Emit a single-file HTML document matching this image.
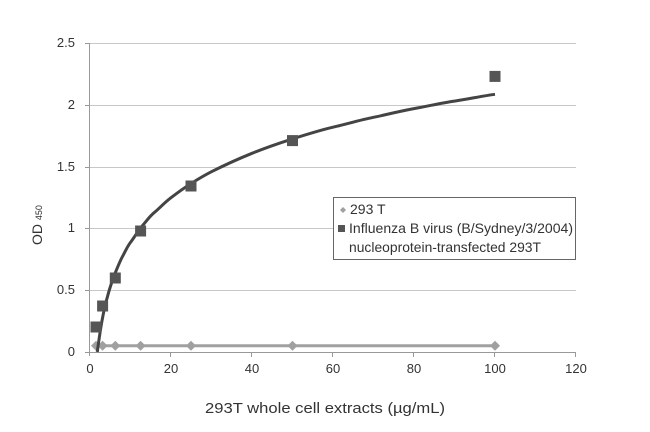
<!DOCTYPE html>
<html><head><style>body{margin:0;background:#fff}</style></head><body>
<svg width="650" height="427" xmlns="http://www.w3.org/2000/svg" font-family="Liberation Sans, sans-serif" font-size="13" fill="#333">
<g stroke="#c8c8c8" stroke-width="1">
<line x1="90" y1="43.5" x2="576" y2="43.5"/><line x1="90" y1="105.5" x2="576" y2="105.5"/><line x1="90" y1="167.5" x2="576" y2="167.5"/><line x1="90" y1="228.5" x2="576" y2="228.5"/><line x1="90" y1="290.5" x2="576" y2="290.5"/>
</g>
<g stroke="#999" stroke-width="1">
<line x1="89.5" y1="43" x2="89.5" y2="356"/><line x1="85" y1="352.5" x2="576" y2="352.5"/>
<line x1="85" y1="43.5" x2="90" y2="43.5"/><line x1="85" y1="105.5" x2="90" y2="105.5"/><line x1="85" y1="167.5" x2="90" y2="167.5"/><line x1="85" y1="228.5" x2="90" y2="228.5"/><line x1="85" y1="290.5" x2="90" y2="290.5"/>
<line x1="170.5" y1="352" x2="170.5" y2="357"/><line x1="251.5" y1="352" x2="251.5" y2="357"/><line x1="332.5" y1="352" x2="332.5" y2="357"/><line x1="413.5" y1="352" x2="413.5" y2="357"/><line x1="494.5" y1="352" x2="494.5" y2="357"/><line x1="575.5" y1="352" x2="575.5" y2="357"/>
</g>
<g text-anchor="end"><text x="75" y="47">2.5</text><text x="75" y="109">2</text><text x="75" y="171">1.5</text><text x="75" y="232">1</text><text x="75" y="294">0.5</text><text x="75" y="356">0</text></g>
<g text-anchor="middle"><text x="90" y="373">0</text><text x="171" y="373">20</text><text x="252" y="373">40</text><text x="333" y="373">60</text><text x="414" y="373">80</text><text x="495" y="373">100</text><text x="576" y="373">120</text></g>
<text x="205" y="413" font-size="15" textLength="240" lengthAdjust="spacingAndGlyphs">293T whole cell extracts (µg/mL)</text>
<text transform="translate(42,225) rotate(-90)" text-anchor="middle" font-size="14">OD <tspan font-size="9">450</tspan></text>
<line x1="96" y1="345.8" x2="495" y2="345.8" stroke="#a0a0a0" stroke-width="3"/>
<g fill="#a0a0a0">
<path d="M96 340.8l5 5-5 5-5-5z"/><path d="M102.6 340.8l5 5-5 5-5-5z"/><path d="M115.3 340.8l5 5-5 5-5-5z"/><path d="M140.6 340.8l5 5-5 5-5-5z"/><path d="M191 340.8l5 5-5 5-5-5z"/><path d="M292.5 340.8l5 5-5 5-5-5z"/><path d="M495 340.8l5 5-5 5-5-5z"/>
</g>
<path fill="none" stroke="#444" stroke-width="3" d="M97.3,352 L98.1,345.8 C99.5,336 100.8,327 102.2,319.7 S104.8,306 106.2,301.2 S108.9,291 110.3,286.9 S113,278 114.3,275.1 S119.5,262 122.4,256.7 S127,247 130.5,242.4 S138,231 142.7,225.4 S150,216 154.8,212.1 S164,203 171,197.7 S184,188 191.3,183.4 S204,175.5 211.5,171.7 S238,159 252,153.3 S278,143.5 292.5,138.9 S319,130.5 333,127.2 S360,120 373.5,117.3 S400,111 414,108.6 S441,103 454.5,101.1 S482,96 495,94.3"/>
<g fill="#555">
<rect x="90.5" y="321.5" width="11" height="11"/><rect x="97.1" y="300.5" width="11" height="11"/><rect x="109.8" y="272.5" width="11" height="11"/><rect x="135.1" y="225.5" width="11" height="11"/><rect x="185.5" y="180.5" width="11" height="11"/><rect x="287" y="135.1" width="11" height="11"/><rect x="489.5" y="70.9" width="11" height="11"/>
</g>
<rect x="333.5" y="197.5" width="242" height="62" fill="#fff" stroke="#666"/>
<path d="M343 207l3 3-3 3-3-3z" fill="#a0a0a0"/><text x="350" y="214" font-size="14">293 T</text>
<rect x="338" y="225" width="7" height="7" fill="#555"/><text x="349" y="233" font-size="14" textLength="224" lengthAdjust="spacingAndGlyphs">Influenza B virus (B/Sydney/3/2004)</text>
<text x="349" y="252" font-size="14" textLength="192" lengthAdjust="spacingAndGlyphs">nucleoprotein-transfected 293T</text>
</svg>
</body></html>
